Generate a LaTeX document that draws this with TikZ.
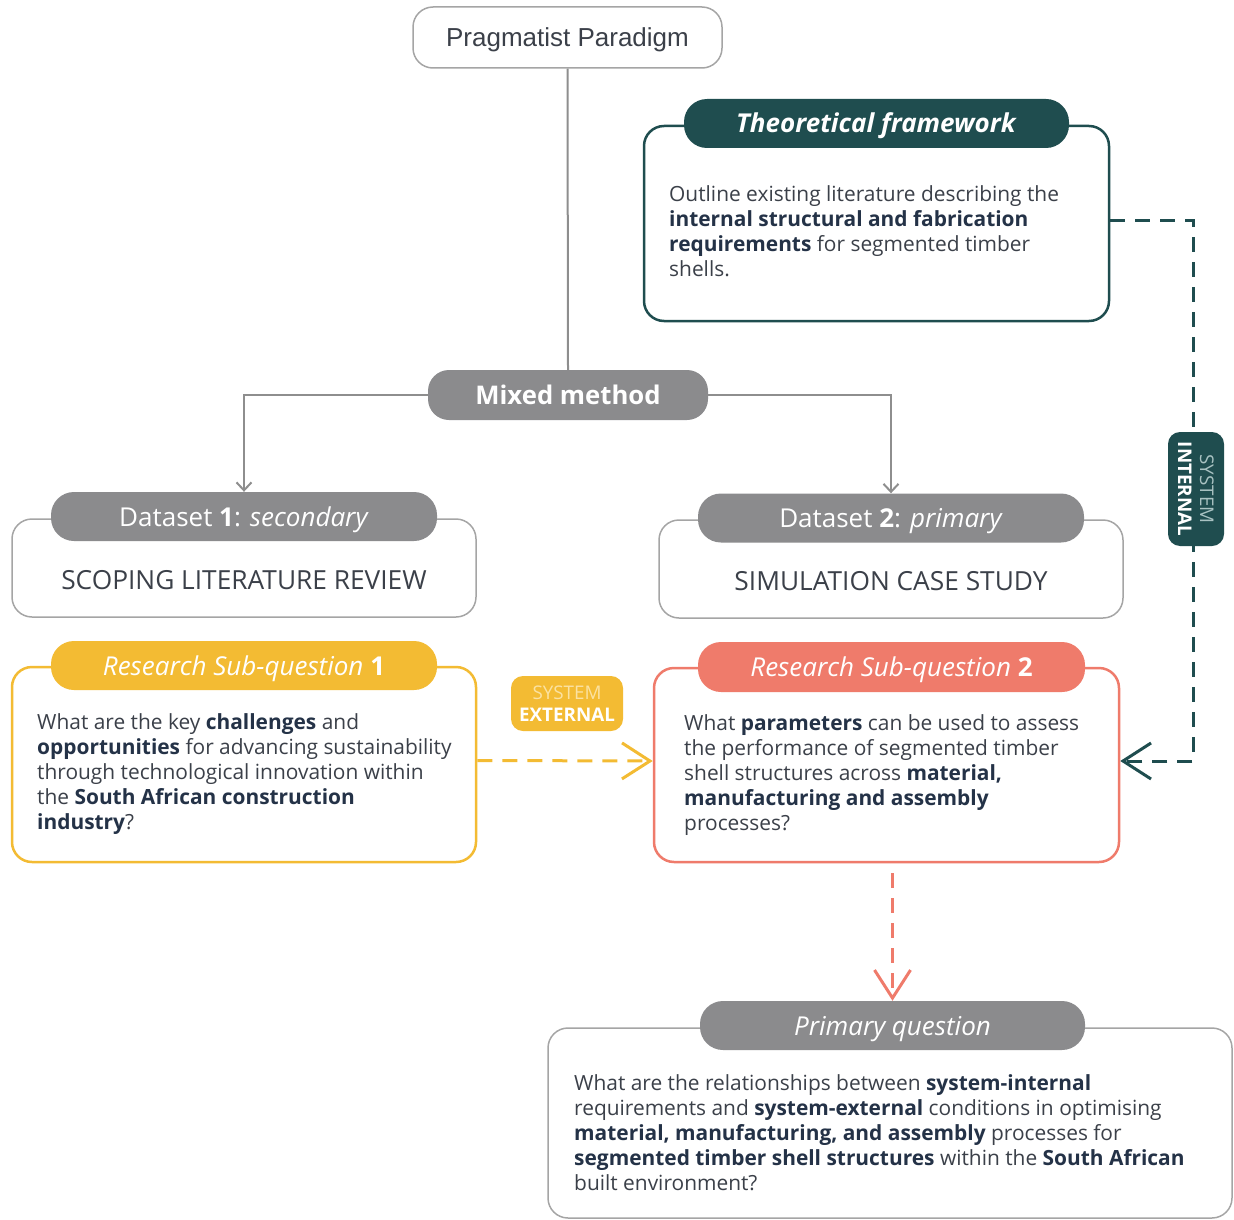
\documentclass[tikz,border=0pt]{standalone}
\usepackage{fontspec}
\setmainfont{Open Sans}
\newfontfamily\arialfont{Liberation Sans}
\usetikzlibrary{arrows.meta}

\definecolor{ink}{HTML}{3B4049}
\definecolor{inkbold}{HTML}{243247}
\definecolor{pillgray}{HTML}{8B8B8D}
\definecolor{linegray}{HTML}{8E8E8E}
\definecolor{boxgray}{HTML}{A5A5A5}
\definecolor{darkteal}{HTML}{1F4D4F}
\definecolor{tealight}{HTML}{A9C2C2}
\definecolor{sun}{HTML}{F3BB33}
\definecolor{sunlight}{HTML}{FBE2A2}
\definecolor{coral}{HTML}{EF7B6B}

\newcommand\kw[1]{\textbf{\color{inkbold}#1}}

\tikzset{
  frame/.style={rounded corners=20pt, fill=white, inner sep=0pt},
  pill/.style={rounded corners=23pt, text=white, inner sep=0pt,
    text height=19pt, text depth=0pt,
    font=\fontsize{26}{30}\selectfont},
  body/.style={anchor=north west, inner sep=0pt, align=left, text=ink,
    font=\fontsize{20.9}{25}\selectfont},
  caption/.style={text=ink, inner sep=0pt, font=\fontsize{26.3}{30}\selectfont},
  conn/.style={draw=linegray, line width=2pt},
  smalltip/.style={-{Straight Barb[length=8pt,width=15pt]}},
  bigtip/.style={-{Straight Barb[length=28pt,width=36pt]}},
  dashline/.style={line width=3pt, dash pattern=on 15pt off 10pt},
  badge/.style={rounded corners=12pt, inner sep=0pt, align=center,
    font=\fontsize{18.8}{23}\selectfont},
}

\begin{document}
\begin{tikzpicture}[x=1pt,y=-1pt]
\useasboundingbox (0,0) rectangle (1234,1220);

% paradigm and method
\node[draw=boxgray, line width=1.5pt, rounded corners=20pt,
      minimum width=309pt, minimum height=61pt,
      text height=19pt, text depth=0pt,
      font=\arialfont\fontsize{26}{30}\selectfont, text=ink]
      (pp) at (567.5,37.5) {Pragmatist Paradigm};
\node[pill, fill=pillgray, minimum width=280pt, minimum height=50pt,
      rounded corners=21pt, font=\bfseries\fontsize{25.7}{30}\selectfont]
      (mm) at (568,395) {Mixed method};
\draw[conn] (pp.south) -- (mm.north);

% theoretical framework
\node[frame, draw=darkteal, line width=2.5pt, minimum width=465pt,
      minimum height=195pt] (tf) at (876.5,223.5) {};
\node[pill, fill=darkteal, minimum width=385pt, minimum height=49pt]
      (tfh) at (876.5,123.5) {\textbf{\textit{Theoretical framework}}};
\node[body] (tft) at (669,185) {Outline existing literature describing the\\
  \kw{internal structural and fabrication}\\
  \kw{requirements} for segmented timber\\
  shells.};

% datasets
\node[frame, draw=boxgray, line width=1.5pt, minimum width=464pt,
      minimum height=98pt] (ds1) at (244,568) {};
\node[pill, fill=pillgray, minimum width=386pt, minimum height=49pt]
      (ds1h) at (244,516.5) {Dataset \textbf{1}: \textit{secondary}};
\node[caption] (ds1t) at (244,580) {SCOPING LITERATURE REVIEW};

\node[frame, draw=boxgray, line width=1.5pt, minimum width=464pt,
      minimum height=98pt] (ds2) at (891,569) {};
\node[pill, fill=pillgray, minimum width=386pt, minimum height=49pt]
      (ds2h) at (891,518) {Dataset \textbf{2}: \textit{primary}};
\node[caption] (ds2t) at (891,581) {SIMULATION CASE STUDY};

\draw[conn, smalltip] (mm.west) -| (ds1h.north);
\draw[conn, smalltip] (mm.east) -| (ds2h.north);

% research sub-questions
\node[frame, draw=sun, line width=2.5pt, minimum width=464pt,
      minimum height=195pt] (rsq1) at (244,764.5) {};
\node[pill, fill=sun, minimum width=386pt, minimum height=49pt]
      (rsq1h) at (244,665.5) {\textit{Research Sub-question} \textbf{1}};
\node[body] (rsq1t) at (37,713) {What are the key \kw{challenges} and\\
  \kw{opportunities} for advancing sustainability\\
  through technological innovation within\\
  the \kw{South African construction}\\
  \kw{industry}?};

\node[frame, draw=coral, line width=2.5pt, minimum width=465pt,
      minimum height=194pt] (rsq2) at (886.5,765) {};
\node[pill, fill=coral, minimum width=387pt, minimum height=50pt]
      (rsq2h) at (891.5,667) {\textit{Research Sub-question} \textbf{2}};
\node[body] (rsq2t) at (684,714) {What \kw{parameters} can be used to assess\\
  the performance of segmented timber\\
  shell structures across \kw{material,}\\
  \kw{manufacturing and assembly}\\
  processes?};

% system-external link
\node[badge, fill=sun, minimum width=112pt, minimum height=55pt]
      (sx) at (567,703.5) {{\color{sunlight}SYSTEM}\\[-1pt]{\color{white}\bfseries EXTERNAL}};
\draw[dashline, draw=sun, bigtip] ([yshift=4pt]rsq1.east) -- ([yshift=4pt]rsq2.west);

% system-internal link
\draw[dashline, draw=darkteal, bigtip]
      ([yshift=3pt]tf.east) -| (1193.5,489) |- ([yshift=4pt]rsq2.east);
\node[badge, fill=darkteal, rotate=-90, minimum width=114pt, minimum height=56pt]
      (si) at (1196,489) {{\color{tealight}SYSTEM}\\[-1pt]{\color{white}\bfseries INTERNAL}};

% primary question
\node[frame, draw=boxgray, line width=1.5pt, minimum width=684pt,
      minimum height=190pt] (pq) at (890,1123) {};
\node[pill, fill=pillgray, minimum width=385pt, minimum height=49pt]
      (pqh) at (892.5,1025.5) {\textit{Primary question}};
\node[body] (pqt) at (574,1074) {What are the relationships between \kw{system-internal}\\
  requirements and \kw{system-external} conditions in optimising\\
  \kw{material, manufacturing, and assembly} processes for\\
  \kw{segmented timber shell structures} within the \kw{South African}\\
  built environment?};

\draw[dashline, draw=coral, bigtip, shorten <=10pt]
      (rsq2.south -| pqh.north) -- (pqh.north);
\end{tikzpicture}
\end{document}
